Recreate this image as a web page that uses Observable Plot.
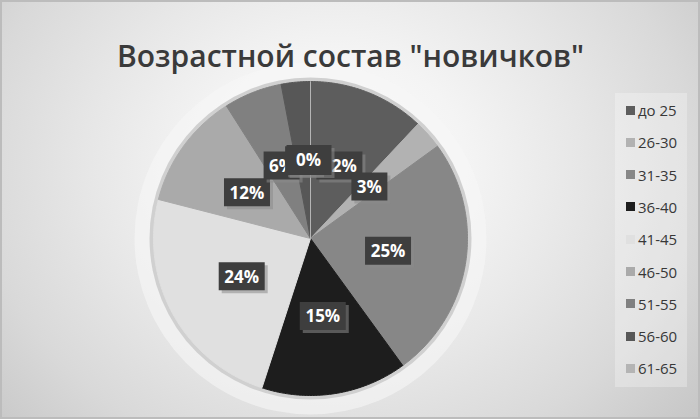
<!DOCTYPE html>
<html><head><meta charset="utf-8">
<script src="https://cdn.jsdelivr.net/npm/d3@7"></script>
<script src="https://cdn.jsdelivr.net/npm/@observablehq/plot@0.6"></script>
<style>
body{margin:0;background:#fff;}
#wrap{position:relative;width:700px;height:419px;overflow:hidden;
  background: radial-gradient(ellipse 470px 400px at 335px 165px, #fdfdfd 0%, #f4f4f4 28%, #e7e7e7 52%, #d9d9d9 76%, #c6c6c6 100%);
  box-shadow: inset 0 0 0 2px #bcbcbc;}
#wrap svg{position:absolute;left:0;top:0;}
#legend{position:absolute;left:615px;top:93px;width:72px;height:294px;background:rgba(255,255,255,0.28);
  font-family:"Open Sans",sans-serif;font-size:15px;color:#383838;}
.item{position:absolute;left:11px;height:20px;display:flex;align-items:center;white-space:nowrap;}
.sw{width:9px;height:9px;margin-right:3px;flex:none;}
</style></head>
<body><div id="wrap"></div>
<script>
const title = "Возрастной состав \"новичков\"";
const categories = ["до 25","26-30","31-35","36-40","41-45","46-50","51-55","56-60","61-65"];
const values = [12, 3, 25, 15, 24, 12, 6, 3, 0];
const colors = ["#5d5d5d","#b2b2b2","#878787","#1d1d1d","#e0e0e0","#aaaaaa","#808080","#575757","#b4b4b4"];

const data = categories.map((c, i) => ({cat: c, value: values[i], label: values[i] + "%"}));
const arcs = d3.pie().sort(null).value(d => d.value)(data);

const slicePts = arcs.flatMap(p => {
  const pts = [{key: p.data.cat, x: 0, y: 0}];
  const n = Math.max(2, Math.ceil((p.endAngle - p.startAngle) / 0.01));
  for (let i = 0; i <= n; i++) {
    const a = p.startAngle + (p.endAngle - p.startAngle) * i / n;
    pts.push({key: p.data.cat, x: Math.sin(a), y: Math.cos(a)});
  }
  pts.push({key: p.data.cat, x: 0, y: 0});
  return pts;
});

const labelPts = arcs.map(p => {
  const a = (p.startAngle + p.endAngle) / 2;
  return {key: p.data.cat, value: p.data.value, label: p.data.label, x: 0.5 * Math.sin(a), y: 0.5 * Math.cos(a)};
});

const boxSmall = {draw(ctx){ ctx.rect(-18, -14, 36, 28); }};
const boxZero = {draw(ctx){ ctx.rect(-24, -15, 45, 30); }};
const boxLarge = {draw(ctx){ ctx.rect(-23, -14, 46, 28); }};

const labelMarks = labelPts.flatMap(d => {
  const sym = d.value === 0 ? boxZero : (d.label.length > 2 ? boxLarge : boxSmall);
  return [
    Plot.dot([d], {x: "x", y: "y", symbol: sym, r: 10, fill: "#8a8a8a", fillOpacity: 0.55, stroke: null, dx: 3, dy: 3}),
    Plot.dot([d], {x: "x", y: "y", symbol: sym, r: 10, fill: "#3e3e3e", stroke: null}),
    Plot.text([d], {x: "x", y: "y", text: "label", fill: "white", fontWeight: "bold", fontSize: 17, fontFamily: "Open Sans", dy: 1, dx: d.value === 0 ? -2 : 0})
  ];
});

const chart = Plot.plot({
  width: 700, height: 419,
  marginTop: 0, marginBottom: 0, marginLeft: 0, marginRight: 0,
  style: {background: "transparent", overflow: "visible"},
  x: {domain: [-1, 1], range: [153, 467], axis: null},
  y: {domain: [-1, 1], range: [395, 81], axis: null},
  color: {domain: categories, range: colors},
  marks: [
    Plot.dot([{x: 0, y: 0}], {x: "x", y: "y", r: 176, fill: "#f6f6f6", fillOpacity: 0.6, stroke: null}),
    Plot.dot([{x: 0, y: 0}], {x: "x", y: "y", r: 161, fill: "#d0d0d0", stroke: null}),
    Plot.line(slicePts, {x: "x", y: "y", z: "key", fill: "key", stroke: "key", strokeWidth: 1, curve: "linear"}),
    ...labelMarks,
    Plot.text([title], {frameAnchor: "top", dy: 66, lineAnchor: "bottom", fontSize: 30, fontWeight: 600, fill: "#3a3a3a", fontFamily: "Open Sans"})
  ]
});

const wrap = document.getElementById("wrap");
wrap.appendChild(chart);

const legend = d3.select(wrap).append("div").attr("id", "legend");
const rowStep = 32.3;
categories.forEach((c, i) => {
  const it = legend.append("div").attr("class", "item").style("top", (7 + i * rowStep) + "px");
  it.append("div").attr("class", "sw").style("background", colors[i]);
  it.append("span").text(c);
});
</script>
</body></html>
